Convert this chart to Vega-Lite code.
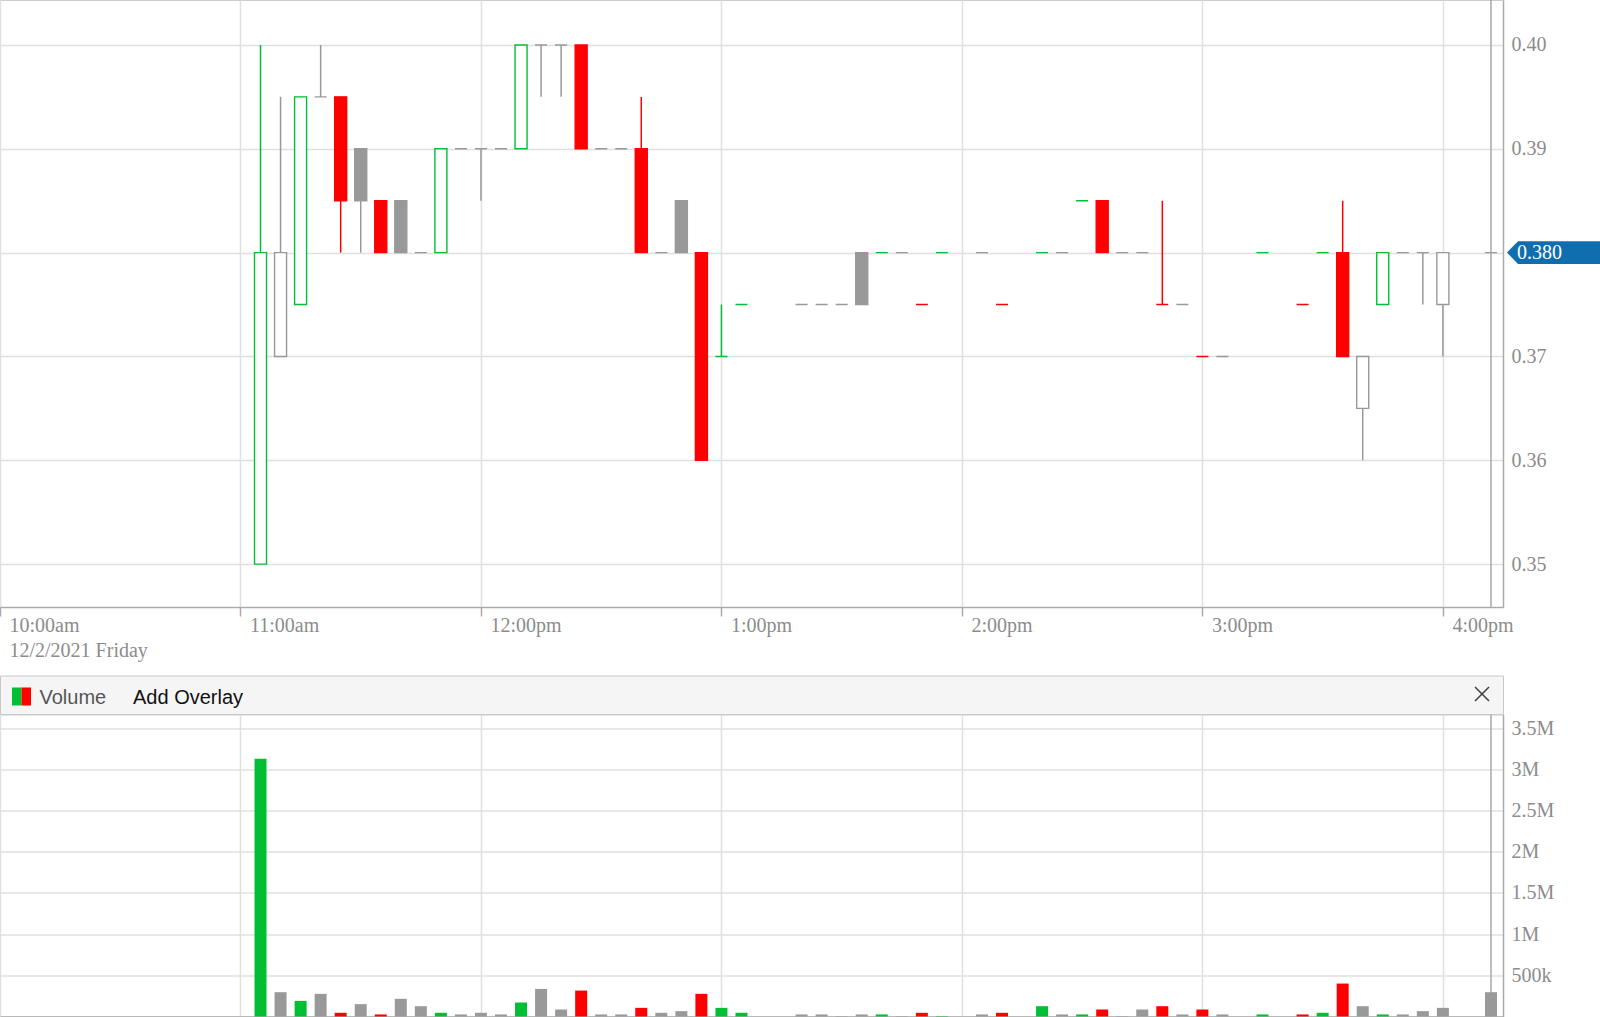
{
  "$schema": "https://vega.github.io/schema/vega-lite/v6.json",
  "padding": {"left": -2, "top": -2, "right": 0, "bottom": 0},
  "background": "white",
  "spacing": 68.5,
  "bounds": "flush",
  "datasets": {
    "bars": [
      {"t": "2021-12-02T11:05", "open": 0.35, "high": 0.40, "low": 0.35, "close": 0.38, "vol": 3130000, "dir": "up"},
      {"t": "2021-12-02T11:10", "open": 0.37, "high": 0.395, "low": 0.37, "close": 0.38, "vol": 295000, "dir": "flat"},
      {"t": "2021-12-02T11:15", "open": 0.375, "high": 0.395, "low": 0.375, "close": 0.395, "vol": 190000, "dir": "up"},
      {"t": "2021-12-02T11:20", "open": 0.395, "high": 0.40, "low": 0.395, "close": 0.395, "vol": 275000, "dir": "flat"},
      {"t": "2021-12-02T11:25", "open": 0.395, "high": 0.395, "low": 0.38, "close": 0.385, "vol": 45000, "dir": "down"},
      {"t": "2021-12-02T11:30", "open": 0.39, "high": 0.39, "low": 0.38, "close": 0.385, "vol": 150000, "dir": "flat"},
      {"t": "2021-12-02T11:35", "open": 0.385, "high": 0.385, "low": 0.38, "close": 0.38, "vol": 25000, "dir": "down"},
      {"t": "2021-12-02T11:40", "open": 0.385, "high": 0.385, "low": 0.38, "close": 0.38, "vol": 215000, "dir": "flat"},
      {"t": "2021-12-02T11:45", "open": 0.38, "high": 0.38, "low": 0.38, "close": 0.38, "vol": 125000, "dir": "flat"},
      {"t": "2021-12-02T11:50", "open": 0.38, "high": 0.39, "low": 0.38, "close": 0.39, "vol": 45000, "dir": "up"},
      {"t": "2021-12-02T11:55", "open": 0.39, "high": 0.39, "low": 0.39, "close": 0.39, "vol": 25000, "dir": "flat"},
      {"t": "2021-12-02T12:00", "open": 0.39, "high": 0.39, "low": 0.385, "close": 0.39, "vol": 45000, "dir": "flat"},
      {"t": "2021-12-02T12:05", "open": 0.39, "high": 0.39, "low": 0.39, "close": 0.39, "vol": 25000, "dir": "flat"},
      {"t": "2021-12-02T12:10", "open": 0.39, "high": 0.40, "low": 0.39, "close": 0.40, "vol": 170000, "dir": "up"},
      {"t": "2021-12-02T12:15", "open": 0.40, "high": 0.40, "low": 0.395, "close": 0.40, "vol": 335000, "dir": "flat"},
      {"t": "2021-12-02T12:20", "open": 0.40, "high": 0.40, "low": 0.395, "close": 0.40, "vol": 85000, "dir": "flat"},
      {"t": "2021-12-02T12:25", "open": 0.40, "high": 0.40, "low": 0.39, "close": 0.39, "vol": 315000, "dir": "down"},
      {"t": "2021-12-02T12:30", "open": 0.39, "high": 0.39, "low": 0.39, "close": 0.39, "vol": 25000, "dir": "flat"},
      {"t": "2021-12-02T12:35", "open": 0.39, "high": 0.39, "low": 0.39, "close": 0.39, "vol": 25000, "dir": "flat"},
      {"t": "2021-12-02T12:40", "open": 0.39, "high": 0.395, "low": 0.38, "close": 0.38, "vol": 105000, "dir": "down"},
      {"t": "2021-12-02T12:45", "open": 0.38, "high": 0.38, "low": 0.38, "close": 0.38, "vol": 45000, "dir": "flat"},
      {"t": "2021-12-02T12:50", "open": 0.385, "high": 0.385, "low": 0.38, "close": 0.38, "vol": 65000, "dir": "flat"},
      {"t": "2021-12-02T12:55", "open": 0.38, "high": 0.38, "low": 0.36, "close": 0.36, "vol": 275000, "dir": "down"},
      {"t": "2021-12-02T13:00", "open": 0.37, "high": 0.375, "low": 0.37, "close": 0.37, "vol": 105000, "dir": "up"},
      {"t": "2021-12-02T13:05", "open": 0.375, "high": 0.375, "low": 0.375, "close": 0.375, "vol": 45000, "dir": "up"},
      {"t": "2021-12-02T13:20", "open": 0.375, "high": 0.375, "low": 0.375, "close": 0.375, "vol": 25000, "dir": "flat"},
      {"t": "2021-12-02T13:25", "open": 0.375, "high": 0.375, "low": 0.375, "close": 0.375, "vol": 25000, "dir": "flat"},
      {"t": "2021-12-02T13:30", "open": 0.375, "high": 0.375, "low": 0.375, "close": 0.375, "vol": 5000, "dir": "flat"},
      {"t": "2021-12-02T13:35", "open": 0.38, "high": 0.38, "low": 0.375, "close": 0.375, "vol": 25000, "dir": "flat"},
      {"t": "2021-12-02T13:40", "open": 0.38, "high": 0.38, "low": 0.38, "close": 0.38, "vol": 25000, "dir": "up"},
      {"t": "2021-12-02T13:45", "open": 0.38, "high": 0.38, "low": 0.38, "close": 0.38, "vol": 5000, "dir": "flat"},
      {"t": "2021-12-02T13:50", "open": 0.375, "high": 0.375, "low": 0.375, "close": 0.375, "vol": 45000, "dir": "down"},
      {"t": "2021-12-02T13:55", "open": 0.38, "high": 0.38, "low": 0.38, "close": 0.38, "vol": 5000, "dir": "up"},
      {"t": "2021-12-02T14:05", "open": 0.38, "high": 0.38, "low": 0.38, "close": 0.38, "vol": 25000, "dir": "flat"},
      {"t": "2021-12-02T14:10", "open": 0.375, "high": 0.375, "low": 0.375, "close": 0.375, "vol": 45000, "dir": "down"},
      {"t": "2021-12-02T14:20", "open": 0.38, "high": 0.38, "low": 0.38, "close": 0.38, "vol": 125000, "dir": "up"},
      {"t": "2021-12-02T14:25", "open": 0.38, "high": 0.38, "low": 0.38, "close": 0.38, "vol": 25000, "dir": "flat"},
      {"t": "2021-12-02T14:30", "open": 0.385, "high": 0.385, "low": 0.385, "close": 0.385, "vol": 25000, "dir": "up"},
      {"t": "2021-12-02T14:35", "open": 0.385, "high": 0.385, "low": 0.38, "close": 0.38, "vol": 85000, "dir": "down"},
      {"t": "2021-12-02T14:40", "open": 0.38, "high": 0.38, "low": 0.38, "close": 0.38, "vol": 5000, "dir": "flat"},
      {"t": "2021-12-02T14:45", "open": 0.38, "high": 0.38, "low": 0.38, "close": 0.38, "vol": 85000, "dir": "flat"},
      {"t": "2021-12-02T14:50", "open": 0.375, "high": 0.385, "low": 0.375, "close": 0.375, "vol": 125000, "dir": "down"},
      {"t": "2021-12-02T14:55", "open": 0.375, "high": 0.375, "low": 0.375, "close": 0.375, "vol": 25000, "dir": "flat"},
      {"t": "2021-12-02T15:00", "open": 0.37, "high": 0.37, "low": 0.37, "close": 0.37, "vol": 85000, "dir": "down"},
      {"t": "2021-12-02T15:05", "open": 0.37, "high": 0.37, "low": 0.37, "close": 0.37, "vol": 25000, "dir": "flat"},
      {"t": "2021-12-02T15:15", "open": 0.38, "high": 0.38, "low": 0.38, "close": 0.38, "vol": 25000, "dir": "up"},
      {"t": "2021-12-02T15:25", "open": 0.375, "high": 0.375, "low": 0.375, "close": 0.375, "vol": 25000, "dir": "down"},
      {"t": "2021-12-02T15:30", "open": 0.38, "high": 0.38, "low": 0.38, "close": 0.38, "vol": 45000, "dir": "up"},
      {"t": "2021-12-02T15:35", "open": 0.38, "high": 0.385, "low": 0.37, "close": 0.37, "vol": 400000, "dir": "down"},
      {"t": "2021-12-02T15:40", "open": 0.365, "high": 0.37, "low": 0.36, "close": 0.37, "vol": 125000, "dir": "flat"},
      {"t": "2021-12-02T15:45", "open": 0.375, "high": 0.38, "low": 0.375, "close": 0.38, "vol": 25000, "dir": "up"},
      {"t": "2021-12-02T15:50", "open": 0.38, "high": 0.38, "low": 0.38, "close": 0.38, "vol": 25000, "dir": "flat"},
      {"t": "2021-12-02T15:55", "open": 0.38, "high": 0.38, "low": 0.375, "close": 0.38, "vol": 65000, "dir": "flat"},
      {"t": "2021-12-02T16:00", "open": 0.375, "high": 0.38, "low": 0.37, "close": 0.38, "vol": 105000, "dir": "flat"},
      {"t": "2021-12-02T16:12", "open": 0.38, "high": 0.38, "low": 0.38, "close": 0.38, "vol": 295000, "dir": "flat"}
    ],
    "last": [{"t": "2021-12-02T16:12", "price": 0.38}],
    "header": [{"label": "Volume"}]
  },
  "config": {
    "view": {"stroke": null},
    "axis": {
      "labelFont": "Liberation Serif",
      "labelFontSize": 20,
      "labelColor": "#8c8c8c",
      "gridColor": "#e0e0e0",
      "gridWidth": 1.5,
      "domainColor": "#aaaaaa",
      "domainWidth": 1.5,
      "tickColor": "#aaaaaa",
      "tickWidth": 1.5
    },
    "legend": {"disable": true}
  },
  "vconcat": [
    {
      "width": 1503,
      "height": 607,
      "view": {"stroke": "#cccccc"},
      "data": {"name": "bars"},
      "encoding": {
        "x": {
          "field": "t",
          "type": "temporal",
          "scale": {
            "padding": 0,
            "domain": [
              {"year": 2021, "month": 12, "date": 2, "hours": 10, "minutes": 0},
              {"year": 2021, "month": 12, "date": 2, "hours": 16, "minutes": 15}
            ]
          },
          "axis": {
            "title": null,
            "values": [
              {"year": 2021, "month": 12, "date": 2, "hours": 10},
              {"year": 2021, "month": 12, "date": 2, "hours": 11},
              {"year": 2021, "month": 12, "date": 2, "hours": 12},
              {"year": 2021, "month": 12, "date": 2, "hours": 13},
              {"year": 2021, "month": 12, "date": 2, "hours": 14},
              {"year": 2021, "month": 12, "date": 2, "hours": 15},
              {"year": 2021, "month": 12, "date": 2, "hours": 16}
            ],
            "labelExpr": "hours(datum.value) == 10 ? ['10:00am', '12/2/2021 Friday'] : timeFormat(datum.value, '%-I:%M') + (hours(datum.value) < 12 ? 'am' : 'pm')",
            "labelAlign": "left",
            "labelBaseline": "top",
            "labelOffset": 9,
            "labelPadding": -1,
            "labelLineHeight": 25.6,
            "labelOverlap": false,
            "labelFlush": false,
            "labelBound": false,
            "tickSize": 9,
            "grid": true
          }
        }
      },
      "layer": [
        {
          "mark": {"type": "rule", "strokeWidth": 1.5},
          "encoding": {
            "y": {
              "field": "low",
              "type": "quantitative",
              "scale": {"domain": [0.34587, 0.40433], "nice": false, "zero": false},
              "axis": {
                "title": null,
                "orient": "right",
                "values": [0.35, 0.36, 0.37, 0.38, 0.39, 0.40],
                "labelExpr": "abs(datum.value - 0.38) < 0.0001 ? '' : format(datum.value, '.2f')",
                "ticks": false,
                "tickSize": 0,
                "labelPadding": 8,
                "grid": true
              }
            },
            "y2": {"field": "high"},
            "color": {
              "field": "dir",
              "type": "nominal",
              "scale": {"domain": ["up", "down", "flat"], "range": ["#00bf33", "#ff0000", "#999999"]},
              "legend": null
            }
          }
        },
        {
          "mark": {"type": "bar", "size": 12, "strokeWidth": 1.4},
          "encoding": {
            "y": {"field": "open", "type": "quantitative"},
            "y2": {"field": "close"},
            "stroke": {
              "field": "dir",
              "type": "nominal",
              "scale": {"domain": ["up", "down", "flat"], "range": ["#00bf33", "#ff0000", "#999999"]},
              "legend": null
            },
            "fill": {
              "condition": {"test": "datum.close > datum.open", "value": "#ffffff"},
              "field": "dir",
              "type": "nominal",
              "scale": {"domain": ["up", "down", "flat"], "range": ["#00bf33", "#ff0000", "#999999"]},
              "legend": null
            }
          }
        },
        {
          "data": {"name": "last"},
          "mark": {"type": "rule", "color": "#a8a8a8", "strokeWidth": 1.5},
          "encoding": {"x": {"field": "t", "type": "temporal"}}
        },
        {
          "data": {"name": "last"},
          "mark": {
            "type": "point",
            "shape": "M-1,0L-0.763,-0.247L1,-0.247L1,0.247L-0.763,0.247Z",
            "size": 8649,
            "filled": true,
            "color": "#106eaf",
            "opacity": 1,
            "xOffset": 50.5
          },
          "encoding": {
            "x": {"value": "width"},
            "y": {"field": "price", "type": "quantitative"}
          }
        },
        {
          "data": {"name": "last"},
          "mark": {
            "type": "text",
            "align": "left",
            "baseline": "middle",
            "dx": 14,
            "font": "Liberation Serif",
            "fontSize": 20,
            "color": "#ffffff"
          },
          "encoding": {
            "x": {"value": "width"},
            "y": {"field": "price", "type": "quantitative"},
            "text": {"field": "price", "type": "quantitative", "format": ".3f"}
          }
        }
      ]
    },
    {
      "spacing": 0,
      "bounds": "flush",
      "vconcat": [
        {
          "width": 1503,
          "height": 38.5,
          "view": {"fill": "#f5f5f5", "stroke": "#c8c8c8"},
          "data": {"name": "header"},
          "layer": [
            {
              "mark": {"type": "rect", "color": "#00bf33"},
              "encoding": {"x": {"value": 12}, "x2": {"value": 21.5}, "y": {"value": 12}, "y2": {"value": 30}}
            },
            {
              "mark": {"type": "rect", "color": "#ff0000"},
              "encoding": {"x": {"value": 21.5}, "x2": {"value": 31}, "y": {"value": 12}, "y2": {"value": 30}}
            },
            {
              "mark": {"type": "text", "align": "left", "baseline": "alphabetic", "font": "Liberation Sans", "fontSize": 20, "color": "#555555"},
              "encoding": {"x": {"value": 39.5}, "y": {"value": 28.8}, "text": {"field": "label"}}
            },
            {
              "mark": {"type": "text", "align": "left", "baseline": "alphabetic", "font": "Liberation Sans", "fontSize": 20, "color": "#111111", "text": "Add Overlay"},
              "encoding": {"x": {"value": 133}, "y": {"value": 28.8}}
            },
            {
              "mark": {"type": "rule", "color": "#444444", "strokeWidth": 1.6},
              "encoding": {"x": {"value": 1475}, "x2": {"value": 1489}, "y": {"value": 11.5}, "y2": {"value": 25.5}}
            },
            {
              "mark": {"type": "rule", "color": "#444444", "strokeWidth": 1.6},
              "encoding": {"x": {"value": 1475}, "x2": {"value": 1489}, "y": {"value": 25.5}, "y2": {"value": 11.5}}
            }
          ]
        },
        {
          "width": 1503,
          "height": 302,
          "view": {"stroke": "#cccccc"},
          "data": {"name": "bars"},
          "encoding": {
            "x": {
              "field": "t",
              "type": "temporal",
              "scale": {
                "padding": 0,
                "domain": [
                  {"year": 2021, "month": 12, "date": 2, "hours": 10, "minutes": 0},
                  {"year": 2021, "month": 12, "date": 2, "hours": 16, "minutes": 15}
                ]
              },
              "axis": {
                "title": null,
                "values": [
                  {"year": 2021, "month": 12, "date": 2, "hours": 10},
                  {"year": 2021, "month": 12, "date": 2, "hours": 11},
                  {"year": 2021, "month": 12, "date": 2, "hours": 12},
                  {"year": 2021, "month": 12, "date": 2, "hours": 13},
                  {"year": 2021, "month": 12, "date": 2, "hours": 14},
                  {"year": 2021, "month": 12, "date": 2, "hours": 15},
                  {"year": 2021, "month": 12, "date": 2, "hours": 16}
                ],
                "labels": false,
                "ticks": false,
                "grid": true
              }
            }
          },
          "layer": [
            {
              "data": {"name": "last"},
              "mark": {"type": "rule", "color": "#a8a8a8", "strokeWidth": 1.5},
              "encoding": {"x": {"field": "t", "type": "temporal"}}
            },
            {
              "mark": {"type": "bar", "size": 12},
              "encoding": {
                "y": {
                  "field": "vol",
                  "type": "quantitative",
                  "scale": {"domain": [0, 3667000], "nice": false},
                  "axis": {
                    "title": null,
                    "orient": "right",
                    "values": [0, 500000, 1000000, 1500000, 2000000, 2500000, 3000000, 3500000],
                    "labelExpr": "datum.value == 0 ? '' : datum.value >= 1000000 ? format(datum.value / 1000000, '~g') + 'M' : format(datum.value / 1000, '~g') + 'k'",
                    "ticks": false,
                    "tickSize": 0,
                    "labelPadding": 8,
                    "grid": true
                  }
                },
                "color": {
                  "field": "dir",
                  "type": "nominal",
                  "scale": {"domain": ["up", "down", "flat"], "range": ["#00bf33", "#ff0000", "#999999"]},
                  "legend": null
                }
              }
            }
          ]
        }
      ]
    }
  ]
}
